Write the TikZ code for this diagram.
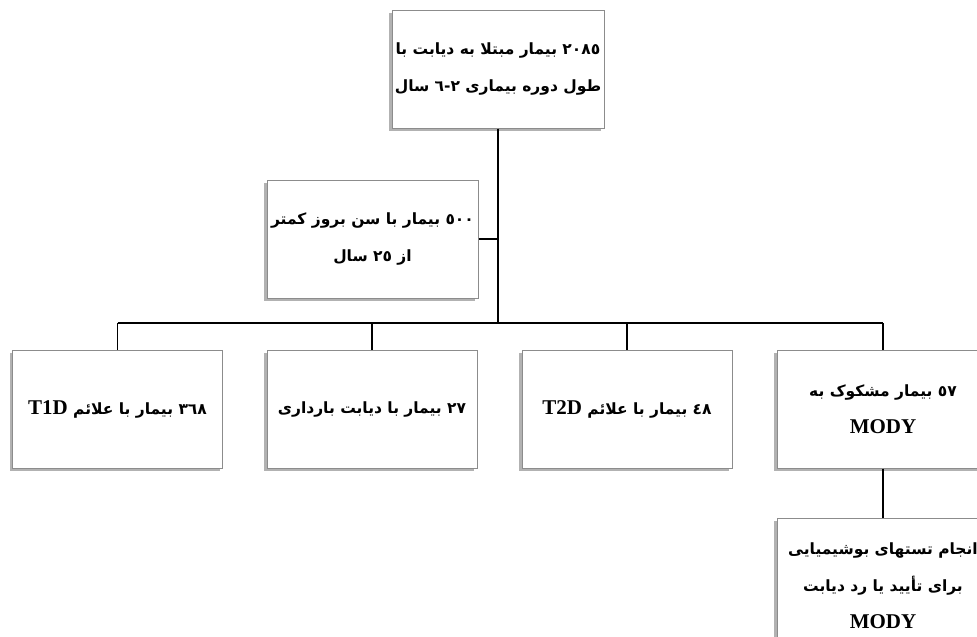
\documentclass[tikz,border=0pt]{standalone}
\usepackage{fontspec}
\usetikzlibrary{shadows}
\TeXXeTstate=1
\newfontfamily\arabicfont[Script=Arabic]{DejaVu Sans}
\newfontfamily\latinfont{Liberation Serif}
\newcommand\faline[1]{\beginR #1\endR}
\newcommand\lat[1]{\beginL{\latinfont\bfseries\fontsize{21}{21}\selectfont #1}\endL{}}
\definecolor{boxborder}{RGB}{140,140,140}
\tikzset{
  boxnode/.style={draw=boxborder, line width=1pt, fill=white, minimum width=210pt, minimum height=118pt,
    inner sep=0pt, align=center, font=\arabicfont\bfseries\fontsize{15.5}{37}\selectfont,
    drop shadow={shadow xshift=-3pt, shadow yshift=-3pt, opacity=0.3, fill=black}},
  conn/.style={draw=black, line width=1.6pt}
}
\begin{document}
\begin{tikzpicture}[x=1pt,y=-1pt]
\useasboundingbox (0,0) rectangle (977,637);
\node[boxnode, minimum width=212pt] (top) at (498,69) {\faline{٢٠٨٥ بیمار مبتلا به دیابت با}\\\faline{طول دوره بیماری ٢-٦ سال}};
\node[boxnode, minimum width=211pt] (mid) at (372.5,239) {\faline{٥٠٠ بیمار با سن بروز کمتر}\\\faline{از ٢٥ سال}};
\node[boxnode] (t1) at (117.5,409) {\faline{٣٦٨ بیمار با علائم \lat{T1D}}};
\node[boxnode] (gd) at (372,409) {\faline{٢٧ بیمار با دیابت بارداری}};
\node[boxnode] (t2) at (627,409) {\faline{٤٨ بیمار با علائم \lat{T2D}}};
\node[boxnode, minimum width=212pt] (mody) at (883,409) {\faline{٥٧ بیمار مشکوک به}\\\lat{MODY}};
\node[boxnode, minimum width=212pt, minimum height=136pt] (test) at (883,586) {\faline{انجام تستهای بوشیمیایی}\\\faline{برای تأیید یا رد دیابت}\\\lat{MODY}};
\coordinate (barL) at (117.5,323);
\coordinate (barR) at (883,323);
\draw[conn] (top.south) -- (top.south |- barL);
\draw[conn] (mid.east) -- (mid.east -| top.south);
\draw[conn] (barL) -- (barR);
\draw[conn] (barL) -- (t1.north);
\draw[conn] (gd.north |- barL) -- (gd.north);
\draw[conn] (t2.north |- barL) -- (t2.north);
\draw[conn] (barR) -- (mody.north);
\draw[conn] (mody.south) -- (test.north);
\end{tikzpicture}
\end{document}
